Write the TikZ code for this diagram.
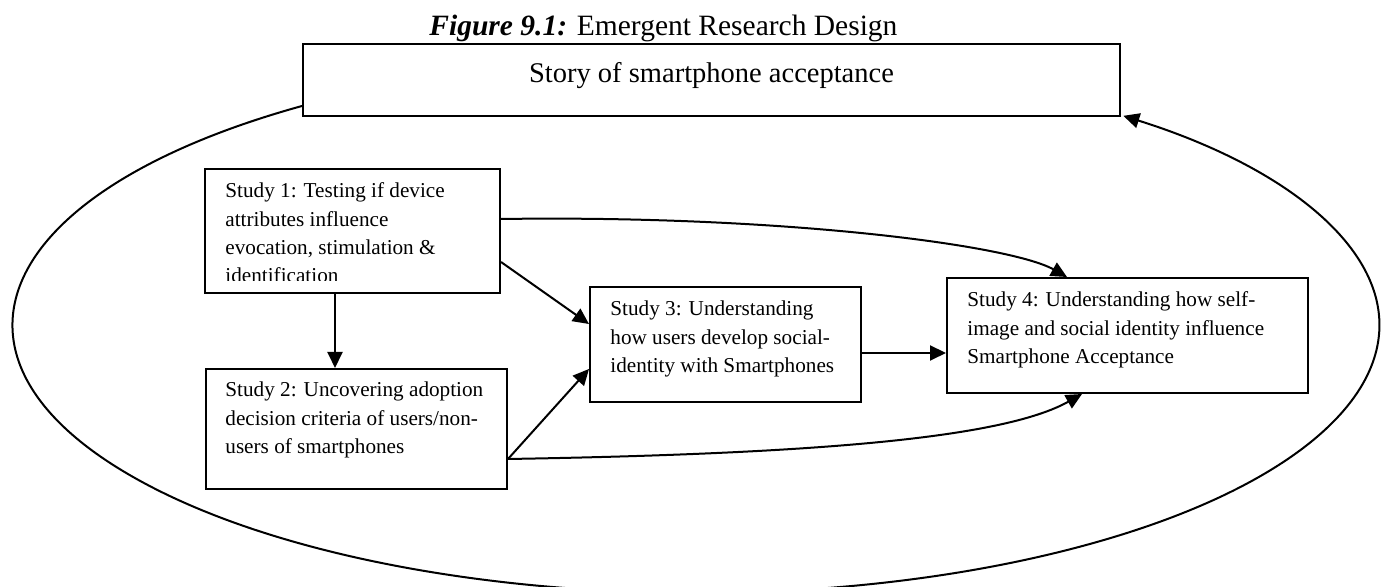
\documentclass[tikz,border=0pt]{standalone}
\usepackage{fontspec}
\setmainfont{Liberation Serif}
\usetikzlibrary{arrows.meta,calc}
\begin{document}
\begin{tikzpicture}[x=0.5pt,y=0.5pt,
  box/.style={draw, line width=1pt, inner sep=0pt, anchor=north west},
  stext/.style={font=\fontsize{10.6pt}{14.1pt}\selectfont, align=left, inner sep=0pt, anchor=base west},
  arr/.style={line width=1pt, -{Triangle[length=8pt,width=7.5pt]}}]
\useasboundingbox (0,0) rectangle (1382,587);
% title
\node[anchor=base west, inner sep=0pt, font=\fontsize{14.75pt}{17pt}\selectfont] (title) at (429,551) {\textbf{\textit{Figure 9.1:}} Emergent Research Design};
% boxes
\node[box, minimum width=408.5pt, minimum height=36pt, font=\fontsize{14.25pt}{17pt}\selectfont, text height=9.7pt, text depth=6.7pt] (top) at (302,544) {Story of smartphone acceptance};
\node[box, minimum width=147.5pt, minimum height=62pt] (s1) at (204,419) {};
\node[box, minimum width=150.5pt, minimum height=60pt] (s2) at (205,219) {};
\node[box, minimum width=135.5pt, minimum height=57.5pt] (s3) at (589,301) {};
\node[box, minimum width=180.5pt, minimum height=57.5pt] (s4) at (946,310) {};
% texts (anchor = baseline of last line)
\begin{scope}
\clip ($(s1.south west)+(0,13.5)$) rectangle (s1.north east);
\node[stext] (s1t) at ($(s1.north west)+(21,-114.6)$) {Study 1: Testing if device\\attributes influence\\evocation, stimulation \&\\identification};
\end{scope}
\node[stext] (s2t) at ($(s2.north west)+(20,-85.4)$) {Study 2: Uncovering adoption\\decision criteria of users/non-\\users of smartphones};
\node[stext] (s3t) at ($(s3.north west)+(21,-86.4)$) {Study 3: Understanding\\how users develop social-\\identity with Smartphones};
\node[stext] (s4t) at ($(s4.north west)+(21,-86.4)$) {Study 4: Understanding how self-\\image and social identity influence\\Smartphone Acceptance};
% connectors
\draw[arr] ($(s1.south west)+(131,0)$) -- ($(s2.north west)+(130,0)$);
\draw[arr] ($(s1.north east)+(0,-94)$) -- ($(s3.north west)+(0,-38)$);
\draw[arr] ($(s2.south east)+(0,31)$) -- ($(s3.north west)+(0,-83)$);
\draw[arr] ($(s3.north east)+(0,-67)$) -- ($(s4.north west)+(0,-76)$);
\draw[arr] ($(s1.north east)+(0,-51)$) .. controls +(281,4) and +(-57,32) .. ($(s4.north west)+(121,0)$);
\draw[arr] ($(s2.south east)+(0,31)$) .. controls +(300,5) and +(-80,-45) .. ($(s4.south west)+(136,0)$);
% big loop
\draw[arr] ($(top.south west)+(0,11)$) arc[start angle=125.2, end angle=411.3, x radius=341.75pt, y radius=134pt];
\end{tikzpicture}
\end{document}
